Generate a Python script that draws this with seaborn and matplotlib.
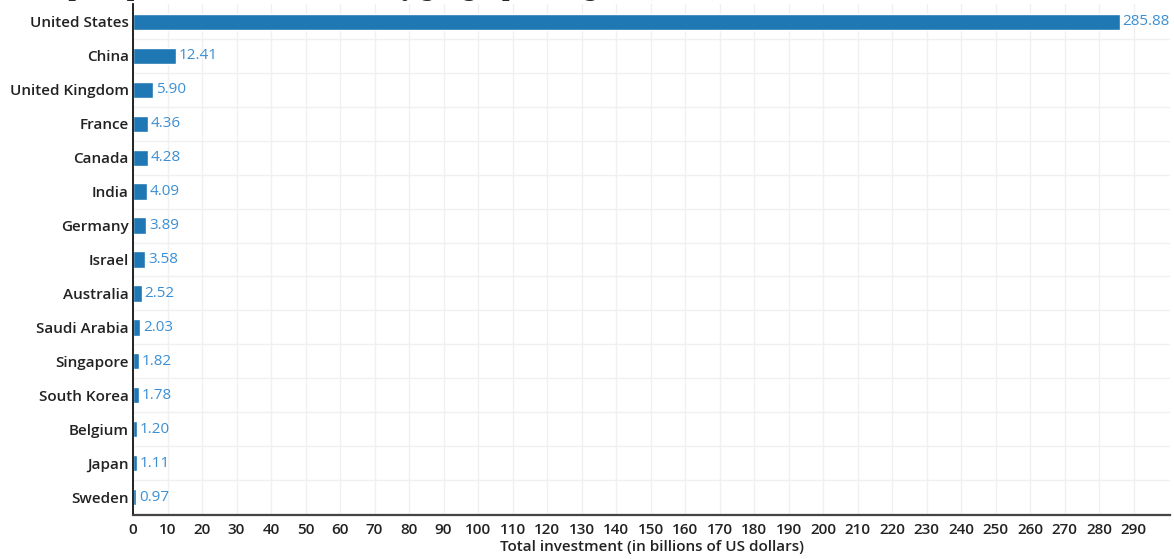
import numpy as np
import pandas as pd
import matplotlib
matplotlib.use('Agg')
import matplotlib.pyplot as plt
import seaborn as sns

countries = ['United States', 'China', 'United Kingdom', 'France', 'Canada',
             'India', 'Germany', 'Israel', 'Australia', 'Saudi Arabia',
             'Singapore', 'South Korea', 'Belgium', 'Japan', 'Sweden']
investment = [285.88, 12.41, 5.90, 4.36, 4.28, 4.09, 3.89, 3.58, 2.52,
              2.03, 1.82, 1.78, 1.20, 1.11, 0.97]
x_ticks = list(range(0, 300, 10))

df = pd.DataFrame({'country': countries, 'investment': investment})

sns.set_style('white')
plt.rcParams['font.family'] = ['Open Sans', 'DejaVu Sans']

fig = plt.figure(figsize=(11.74, 5.59), dpi=100)
ax = fig.add_axes([133 / 1174, 1 - 515 / 559, (1170 - 133) / 1174, (515 - 4) / 559])

sns.barplot(data=df, x='investment', y='country', color='#1f77b4',
            width=0.48, saturation=1, ax=ax)

for i, v in enumerate(investment):
    ax.text(v + 0.8, i, f'{v:.2f}', va='center', ha='left',
            color='#3b8fd4', fontsize=11)

ax.set_xlim(0, 300.5)
ax.set_ylim(len(countries) - 0.47, -0.53)
ax.set_xticks(x_ticks)
ax.set_yticks(np.arange(len(countries)) + 0.5, minor=True)
ax.grid(True, axis='x', color='#f0f0f0', lw=1)
ax.grid(True, axis='y', which='minor', color='#f0f0f0', lw=1)
ax.set_axisbelow(True)
ax.tick_params(axis='both', length=0, labelsize=11, colors='#222222')
ax.tick_params(axis='y', which='minor', length=0)
ax.tick_params(axis='x', pad=6)
ax.tick_params(axis='y', pad=3)
for lbl in ax.get_yticklabels() + ax.get_xticklabels():
    lbl.set_fontweight('semibold')
ax.set_ylabel('')
ax.set_xlabel('Total investment (in billions of US dollars)', fontsize=11,
              color='#222222', labelpad=2, fontweight='semibold')

for s in ['top', 'right']:
    ax.spines[s].set_visible(False)
ax.spines['left'].set_color('#111111')
ax.spines['left'].set_linewidth(1.3)
ax.spines['bottom'].set_color('#444444')
ax.spines['bottom'].set_linewidth(1.6)

# title is cut off at the top of the picture, only descenders show
fig.text(0.035, 1.0 + 3 / 559, 'Top 15 private AI investment by geographic region (2023)',
         fontsize=15, fontweight='bold', family='DejaVu Serif', va='baseline')

fig.savefig('out.png', dpi=100)
